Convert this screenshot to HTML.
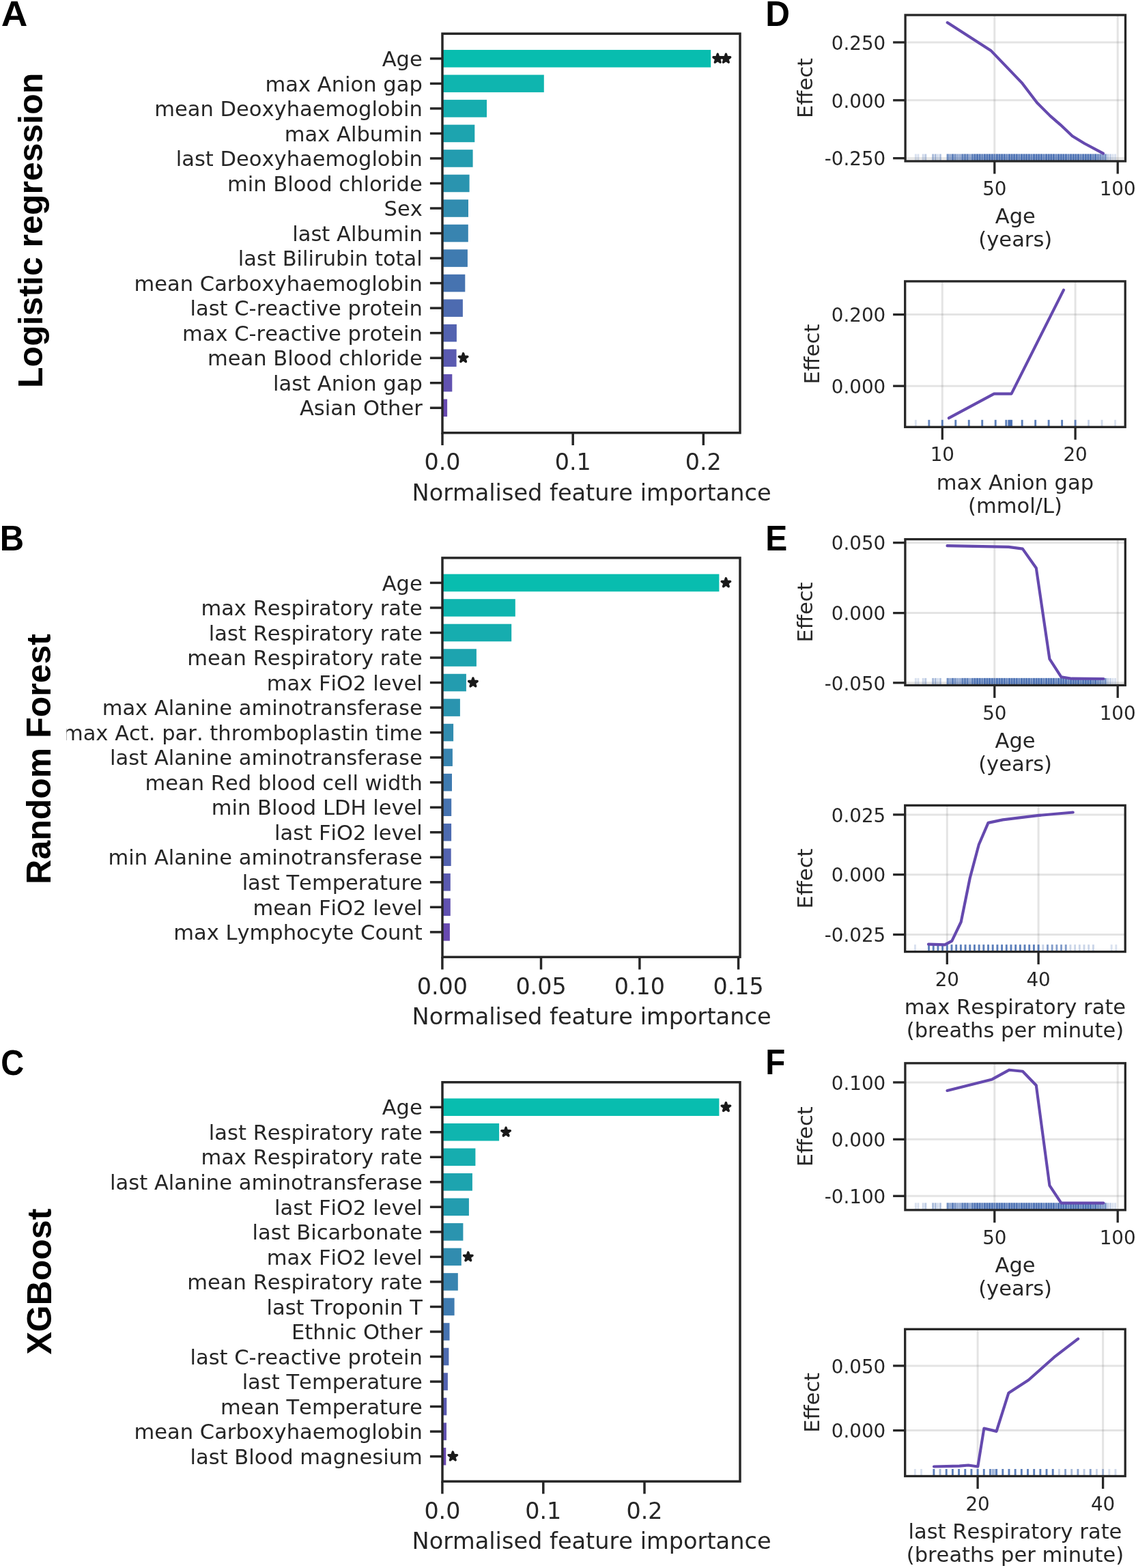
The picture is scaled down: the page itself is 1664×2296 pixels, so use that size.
<!DOCTYPE html>
<html><head><meta charset="utf-8"><title>Feature importance</title>
<style>html,body{margin:0;padding:0;background:#fff;}svg{display:block;} text{font-kerning:none;}</style></head>
<body>
<svg width="1664" height="2296" viewBox="0 0 1664 2296" font-family="'DejaVu Sans', sans-serif">
<rect width="100%" height="100%" fill="#ffffff"/>
<defs><clipPath id="clipB"><rect x="97.4" y="0" width="1600" height="2296"/></clipPath></defs>
<rect x="648.00" y="73.04" width="393.20" height="25.57" fill="#08bdaf"/>
<polygon points="1051.20,79.23 1052.68,83.79 1057.48,83.79 1053.60,86.61 1055.08,91.17 1051.20,88.35 1047.32,91.17 1048.80,86.61 1044.92,83.79 1049.72,83.79" fill="#1a1a1a" stroke="#1a1a1a" stroke-width="3.4" stroke-linejoin="round"/>
<polygon points="1063.40,79.23 1064.88,83.79 1069.68,83.79 1065.80,86.61 1067.28,91.17 1063.40,88.35 1059.52,91.17 1061.00,86.61 1057.12,83.79 1061.92,83.79" fill="#1a1a1a" stroke="#1a1a1a" stroke-width="3.4" stroke-linejoin="round"/>
<rect x="648.00" y="109.57" width="148.80" height="25.57" fill="#0fb5af"/>
<rect x="648.00" y="146.10" width="65.00" height="25.57" fill="#16adaf"/>
<rect x="648.00" y="182.63" width="47.30" height="25.57" fill="#1da4af"/>
<rect x="648.00" y="219.16" width="44.60" height="25.57" fill="#239caf"/>
<rect x="648.00" y="255.69" width="39.60" height="25.57" fill="#2a94af"/>
<rect x="648.00" y="292.22" width="38.00" height="25.57" fill="#318caf"/>
<rect x="648.00" y="328.75" width="37.80" height="25.57" fill="#3884b0"/>
<rect x="648.00" y="365.28" width="36.90" height="25.57" fill="#3f7bb0"/>
<rect x="648.00" y="401.81" width="33.30" height="25.57" fill="#4673b0"/>
<rect x="648.00" y="438.34" width="29.90" height="25.57" fill="#4d6bb0"/>
<rect x="648.00" y="474.87" width="20.90" height="25.57" fill="#5363b0"/>
<rect x="648.00" y="511.40" width="20.60" height="25.57" fill="#5a5ab0"/>
<polygon points="678.60,517.59 680.08,522.15 684.88,522.15 681.00,524.97 682.48,529.53 678.60,526.71 674.72,529.53 676.20,524.97 672.32,522.15 677.12,522.15" fill="#1a1a1a" stroke="#1a1a1a" stroke-width="3.4" stroke-linejoin="round"/>
<rect x="648.00" y="547.93" width="14.30" height="25.57" fill="#6152b0"/>
<rect x="648.00" y="584.46" width="7.10" height="25.57" fill="#684ab0"/>
<rect x="648.00" y="49.30" width="436.00" height="584.48" fill="none" stroke="#262626" stroke-width="3.47"/>
<line x1="629.90" y1="85.83" x2="648.00" y2="85.83" stroke="#262626" stroke-width="3.47" stroke-linecap="butt"/>
<text x="618.80" y="97.03" font-size="30.56" text-anchor="end" fill="#262626">Age</text>
<line x1="629.90" y1="122.36" x2="648.00" y2="122.36" stroke="#262626" stroke-width="3.47" stroke-linecap="butt"/>
<text x="618.80" y="133.56" font-size="30.56" text-anchor="end" fill="#262626">max Anion gap</text>
<line x1="629.90" y1="158.89" x2="648.00" y2="158.89" stroke="#262626" stroke-width="3.47" stroke-linecap="butt"/>
<text x="618.80" y="170.09" font-size="30.56" text-anchor="end" fill="#262626">mean Deoxyhaemoglobin</text>
<line x1="629.90" y1="195.42" x2="648.00" y2="195.42" stroke="#262626" stroke-width="3.47" stroke-linecap="butt"/>
<text x="618.80" y="206.62" font-size="30.56" text-anchor="end" fill="#262626">max Albumin</text>
<line x1="629.90" y1="231.95" x2="648.00" y2="231.95" stroke="#262626" stroke-width="3.47" stroke-linecap="butt"/>
<text x="618.80" y="243.15" font-size="30.56" text-anchor="end" fill="#262626">last Deoxyhaemoglobin</text>
<line x1="629.90" y1="268.48" x2="648.00" y2="268.48" stroke="#262626" stroke-width="3.47" stroke-linecap="butt"/>
<text x="618.80" y="279.68" font-size="30.56" text-anchor="end" fill="#262626">min Blood chloride</text>
<line x1="629.90" y1="305.01" x2="648.00" y2="305.01" stroke="#262626" stroke-width="3.47" stroke-linecap="butt"/>
<text x="618.80" y="316.21" font-size="30.56" text-anchor="end" fill="#262626">Sex</text>
<line x1="629.90" y1="341.54" x2="648.00" y2="341.54" stroke="#262626" stroke-width="3.47" stroke-linecap="butt"/>
<text x="618.80" y="352.74" font-size="30.56" text-anchor="end" fill="#262626">last Albumin</text>
<line x1="629.90" y1="378.07" x2="648.00" y2="378.07" stroke="#262626" stroke-width="3.47" stroke-linecap="butt"/>
<text x="618.80" y="389.27" font-size="30.56" text-anchor="end" fill="#262626">last Bilirubin total</text>
<line x1="629.90" y1="414.60" x2="648.00" y2="414.60" stroke="#262626" stroke-width="3.47" stroke-linecap="butt"/>
<text x="618.80" y="425.80" font-size="30.56" text-anchor="end" fill="#262626">mean Carboxyhaemoglobin</text>
<line x1="629.90" y1="451.13" x2="648.00" y2="451.13" stroke="#262626" stroke-width="3.47" stroke-linecap="butt"/>
<text x="618.80" y="462.33" font-size="30.56" text-anchor="end" fill="#262626">last C-reactive protein</text>
<line x1="629.90" y1="487.66" x2="648.00" y2="487.66" stroke="#262626" stroke-width="3.47" stroke-linecap="butt"/>
<text x="618.80" y="498.86" font-size="30.56" text-anchor="end" fill="#262626">max C-reactive protein</text>
<line x1="629.90" y1="524.19" x2="648.00" y2="524.19" stroke="#262626" stroke-width="3.47" stroke-linecap="butt"/>
<text x="618.80" y="535.39" font-size="30.56" text-anchor="end" fill="#262626">mean Blood chloride</text>
<line x1="629.90" y1="560.72" x2="648.00" y2="560.72" stroke="#262626" stroke-width="3.47" stroke-linecap="butt"/>
<text x="618.80" y="571.92" font-size="30.56" text-anchor="end" fill="#262626">last Anion gap</text>
<line x1="629.90" y1="597.25" x2="648.00" y2="597.25" stroke="#262626" stroke-width="3.47" stroke-linecap="butt"/>
<text x="618.80" y="608.45" font-size="30.56" text-anchor="end" fill="#262626">Asian Other</text>
<line x1="648.00" y1="633.78" x2="648.00" y2="651.98" stroke="#262626" stroke-width="3.47" stroke-linecap="butt"/>
<text x="648.00" y="688.38" font-size="33.33" text-anchor="middle" fill="#262626">0.0</text>
<line x1="839.20" y1="633.78" x2="839.20" y2="651.98" stroke="#262626" stroke-width="3.47" stroke-linecap="butt"/>
<text x="839.20" y="688.38" font-size="33.33" text-anchor="middle" fill="#262626">0.1</text>
<line x1="1030.30" y1="633.78" x2="1030.30" y2="651.98" stroke="#262626" stroke-width="3.47" stroke-linecap="butt"/>
<text x="1030.30" y="688.38" font-size="33.33" text-anchor="middle" fill="#262626">0.2</text>
<text x="866.55" y="732.88" font-size="33.6" text-anchor="middle" fill="#262626">Normalised feature importance</text>
<rect x="648.00" y="840.64" width="405.40" height="25.57" fill="#08bdaf"/>
<polygon points="1063.40,846.83 1064.88,851.39 1069.68,851.39 1065.80,854.21 1067.28,858.77 1063.40,855.95 1059.52,858.77 1061.00,854.21 1057.12,851.39 1061.92,851.39" fill="#1a1a1a" stroke="#1a1a1a" stroke-width="3.4" stroke-linejoin="round"/>
<rect x="648.00" y="877.17" width="106.80" height="25.57" fill="#0fb5af"/>
<rect x="648.00" y="913.70" width="101.20" height="25.57" fill="#16adaf"/>
<rect x="648.00" y="950.23" width="49.90" height="25.57" fill="#1da4af"/>
<rect x="648.00" y="986.76" width="34.90" height="25.57" fill="#239caf"/>
<polygon points="692.90,992.95 694.38,997.51 699.18,997.51 695.30,1000.33 696.78,1004.89 692.90,1002.07 689.02,1004.89 690.50,1000.33 686.62,997.51 691.42,997.51" fill="#1a1a1a" stroke="#1a1a1a" stroke-width="3.4" stroke-linejoin="round"/>
<rect x="648.00" y="1023.29" width="25.90" height="25.57" fill="#2a94af"/>
<rect x="648.00" y="1059.82" width="16.10" height="25.57" fill="#318caf"/>
<rect x="648.00" y="1096.35" width="14.90" height="25.57" fill="#3884b0"/>
<rect x="648.00" y="1132.88" width="14.00" height="25.57" fill="#3f7bb0"/>
<rect x="648.00" y="1169.41" width="13.20" height="25.57" fill="#4673b0"/>
<rect x="648.00" y="1205.94" width="13.10" height="25.57" fill="#4d6bb0"/>
<rect x="648.00" y="1242.47" width="12.70" height="25.57" fill="#5363b0"/>
<rect x="648.00" y="1279.00" width="11.80" height="25.57" fill="#5a5ab0"/>
<rect x="648.00" y="1315.53" width="11.80" height="25.57" fill="#6152b0"/>
<rect x="648.00" y="1352.06" width="10.90" height="25.57" fill="#684ab0"/>
<rect x="648.00" y="816.90" width="436.00" height="584.48" fill="none" stroke="#262626" stroke-width="3.47"/>
<line x1="629.90" y1="853.43" x2="648.00" y2="853.43" stroke="#262626" stroke-width="3.47" stroke-linecap="butt"/>
<text x="618.80" y="864.63" font-size="30.56" text-anchor="end" fill="#262626">Age</text>
<line x1="629.90" y1="889.96" x2="648.00" y2="889.96" stroke="#262626" stroke-width="3.47" stroke-linecap="butt"/>
<text x="618.80" y="901.16" font-size="30.56" text-anchor="end" fill="#262626">max Respiratory rate</text>
<line x1="629.90" y1="926.49" x2="648.00" y2="926.49" stroke="#262626" stroke-width="3.47" stroke-linecap="butt"/>
<text x="618.80" y="937.69" font-size="30.56" text-anchor="end" fill="#262626">last Respiratory rate</text>
<line x1="629.90" y1="963.02" x2="648.00" y2="963.02" stroke="#262626" stroke-width="3.47" stroke-linecap="butt"/>
<text x="618.80" y="974.22" font-size="30.56" text-anchor="end" fill="#262626">mean Respiratory rate</text>
<line x1="629.90" y1="999.55" x2="648.00" y2="999.55" stroke="#262626" stroke-width="3.47" stroke-linecap="butt"/>
<text x="618.80" y="1010.75" font-size="30.56" text-anchor="end" fill="#262626">max FiO2 level</text>
<line x1="629.90" y1="1036.08" x2="648.00" y2="1036.08" stroke="#262626" stroke-width="3.47" stroke-linecap="butt"/>
<text x="618.80" y="1047.28" font-size="30.56" text-anchor="end" fill="#262626">max Alanine aminotransferase</text>
<line x1="629.90" y1="1072.61" x2="648.00" y2="1072.61" stroke="#262626" stroke-width="3.47" stroke-linecap="butt"/>
<text x="618.80" y="1083.81" font-size="30.56" text-anchor="end" fill="#262626" clip-path="url(#clipB)">max Act. par. thromboplastin time</text>
<line x1="629.90" y1="1109.14" x2="648.00" y2="1109.14" stroke="#262626" stroke-width="3.47" stroke-linecap="butt"/>
<text x="618.80" y="1120.34" font-size="30.56" text-anchor="end" fill="#262626">last Alanine aminotransferase</text>
<line x1="629.90" y1="1145.67" x2="648.00" y2="1145.67" stroke="#262626" stroke-width="3.47" stroke-linecap="butt"/>
<text x="618.80" y="1156.87" font-size="30.56" text-anchor="end" fill="#262626">mean Red blood cell width</text>
<line x1="629.90" y1="1182.20" x2="648.00" y2="1182.20" stroke="#262626" stroke-width="3.47" stroke-linecap="butt"/>
<text x="618.80" y="1193.40" font-size="30.56" text-anchor="end" fill="#262626">min Blood LDH level</text>
<line x1="629.90" y1="1218.73" x2="648.00" y2="1218.73" stroke="#262626" stroke-width="3.47" stroke-linecap="butt"/>
<text x="618.80" y="1229.93" font-size="30.56" text-anchor="end" fill="#262626">last FiO2 level</text>
<line x1="629.90" y1="1255.26" x2="648.00" y2="1255.26" stroke="#262626" stroke-width="3.47" stroke-linecap="butt"/>
<text x="618.80" y="1266.46" font-size="30.56" text-anchor="end" fill="#262626">min Alanine aminotransferase</text>
<line x1="629.90" y1="1291.79" x2="648.00" y2="1291.79" stroke="#262626" stroke-width="3.47" stroke-linecap="butt"/>
<text x="618.80" y="1302.99" font-size="30.56" text-anchor="end" fill="#262626">last Temperature</text>
<line x1="629.90" y1="1328.32" x2="648.00" y2="1328.32" stroke="#262626" stroke-width="3.47" stroke-linecap="butt"/>
<text x="618.80" y="1339.52" font-size="30.56" text-anchor="end" fill="#262626">mean FiO2 level</text>
<line x1="629.90" y1="1364.85" x2="648.00" y2="1364.85" stroke="#262626" stroke-width="3.47" stroke-linecap="butt"/>
<text x="618.80" y="1376.05" font-size="30.56" text-anchor="end" fill="#262626">max Lymphocyte Count</text>
<line x1="647.90" y1="1401.38" x2="647.90" y2="1419.58" stroke="#262626" stroke-width="3.47" stroke-linecap="butt"/>
<text x="647.90" y="1455.98" font-size="33.33" text-anchor="middle" fill="#262626">0.00</text>
<line x1="792.50" y1="1401.38" x2="792.50" y2="1419.58" stroke="#262626" stroke-width="3.47" stroke-linecap="butt"/>
<text x="792.50" y="1455.98" font-size="33.33" text-anchor="middle" fill="#262626">0.05</text>
<line x1="936.90" y1="1401.38" x2="936.90" y2="1419.58" stroke="#262626" stroke-width="3.47" stroke-linecap="butt"/>
<text x="936.90" y="1455.98" font-size="33.33" text-anchor="middle" fill="#262626">0.10</text>
<line x1="1081.60" y1="1401.38" x2="1081.60" y2="1419.58" stroke="#262626" stroke-width="3.47" stroke-linecap="butt"/>
<text x="1081.60" y="1455.98" font-size="33.33" text-anchor="middle" fill="#262626">0.15</text>
<text x="866.55" y="1500.48" font-size="33.6" text-anchor="middle" fill="#262626">Normalised feature importance</text>
<rect x="648.00" y="1608.44" width="405.40" height="25.57" fill="#08bdaf"/>
<polygon points="1063.40,1614.63 1064.88,1619.19 1069.68,1619.19 1065.80,1622.01 1067.28,1626.57 1063.40,1623.75 1059.52,1626.57 1061.00,1622.01 1057.12,1619.19 1061.92,1619.19" fill="#1a1a1a" stroke="#1a1a1a" stroke-width="3.4" stroke-linejoin="round"/>
<rect x="648.00" y="1644.97" width="83.10" height="25.57" fill="#0fb5af"/>
<polygon points="741.10,1651.16 742.58,1655.72 747.38,1655.72 743.50,1658.54 744.98,1663.10 741.10,1660.28 737.22,1663.10 738.70,1658.54 734.82,1655.72 739.62,1655.72" fill="#1a1a1a" stroke="#1a1a1a" stroke-width="3.4" stroke-linejoin="round"/>
<rect x="648.00" y="1681.50" width="48.40" height="25.57" fill="#16adaf"/>
<rect x="648.00" y="1718.03" width="43.90" height="25.57" fill="#1da4af"/>
<rect x="648.00" y="1754.56" width="38.90" height="25.57" fill="#239caf"/>
<rect x="648.00" y="1791.09" width="30.40" height="25.57" fill="#2a94af"/>
<rect x="648.00" y="1827.62" width="27.80" height="25.57" fill="#318caf"/>
<polygon points="685.80,1833.81 687.28,1838.37 692.08,1838.37 688.20,1841.19 689.68,1845.75 685.80,1842.93 681.92,1845.75 683.40,1841.19 679.52,1838.37 684.32,1838.37" fill="#1a1a1a" stroke="#1a1a1a" stroke-width="3.4" stroke-linejoin="round"/>
<rect x="648.00" y="1864.15" width="22.80" height="25.57" fill="#3884b0"/>
<rect x="648.00" y="1900.68" width="17.60" height="25.57" fill="#3f7bb0"/>
<rect x="648.00" y="1937.21" width="10.50" height="25.57" fill="#4673b0"/>
<rect x="648.00" y="1973.74" width="9.40" height="25.57" fill="#4d6bb0"/>
<rect x="648.00" y="2010.27" width="7.90" height="25.57" fill="#5363b0"/>
<rect x="648.00" y="2046.80" width="6.30" height="25.57" fill="#5a5ab0"/>
<rect x="648.00" y="2083.33" width="6.00" height="25.57" fill="#6152b0"/>
<rect x="648.00" y="2119.86" width="5.30" height="25.57" fill="#684ab0"/>
<polygon points="663.30,2126.05 664.78,2130.61 669.58,2130.61 665.70,2133.43 667.18,2137.99 663.30,2135.17 659.42,2137.99 660.90,2133.43 657.02,2130.61 661.82,2130.61" fill="#1a1a1a" stroke="#1a1a1a" stroke-width="3.4" stroke-linejoin="round"/>
<rect x="648.00" y="1584.70" width="436.00" height="584.48" fill="none" stroke="#262626" stroke-width="3.47"/>
<line x1="629.90" y1="1621.23" x2="648.00" y2="1621.23" stroke="#262626" stroke-width="3.47" stroke-linecap="butt"/>
<text x="618.80" y="1632.43" font-size="30.56" text-anchor="end" fill="#262626">Age</text>
<line x1="629.90" y1="1657.76" x2="648.00" y2="1657.76" stroke="#262626" stroke-width="3.47" stroke-linecap="butt"/>
<text x="618.80" y="1668.96" font-size="30.56" text-anchor="end" fill="#262626">last Respiratory rate</text>
<line x1="629.90" y1="1694.29" x2="648.00" y2="1694.29" stroke="#262626" stroke-width="3.47" stroke-linecap="butt"/>
<text x="618.80" y="1705.49" font-size="30.56" text-anchor="end" fill="#262626">max Respiratory rate</text>
<line x1="629.90" y1="1730.82" x2="648.00" y2="1730.82" stroke="#262626" stroke-width="3.47" stroke-linecap="butt"/>
<text x="618.80" y="1742.02" font-size="30.56" text-anchor="end" fill="#262626">last Alanine aminotransferase</text>
<line x1="629.90" y1="1767.35" x2="648.00" y2="1767.35" stroke="#262626" stroke-width="3.47" stroke-linecap="butt"/>
<text x="618.80" y="1778.55" font-size="30.56" text-anchor="end" fill="#262626">last FiO2 level</text>
<line x1="629.90" y1="1803.88" x2="648.00" y2="1803.88" stroke="#262626" stroke-width="3.47" stroke-linecap="butt"/>
<text x="618.80" y="1815.08" font-size="30.56" text-anchor="end" fill="#262626">last Bicarbonate</text>
<line x1="629.90" y1="1840.41" x2="648.00" y2="1840.41" stroke="#262626" stroke-width="3.47" stroke-linecap="butt"/>
<text x="618.80" y="1851.61" font-size="30.56" text-anchor="end" fill="#262626">max FiO2 level</text>
<line x1="629.90" y1="1876.94" x2="648.00" y2="1876.94" stroke="#262626" stroke-width="3.47" stroke-linecap="butt"/>
<text x="618.80" y="1888.14" font-size="30.56" text-anchor="end" fill="#262626">mean Respiratory rate</text>
<line x1="629.90" y1="1913.47" x2="648.00" y2="1913.47" stroke="#262626" stroke-width="3.47" stroke-linecap="butt"/>
<text x="618.80" y="1924.67" font-size="30.56" text-anchor="end" fill="#262626">last Troponin T</text>
<line x1="629.90" y1="1950.00" x2="648.00" y2="1950.00" stroke="#262626" stroke-width="3.47" stroke-linecap="butt"/>
<text x="618.80" y="1961.20" font-size="30.56" text-anchor="end" fill="#262626">Ethnic Other</text>
<line x1="629.90" y1="1986.53" x2="648.00" y2="1986.53" stroke="#262626" stroke-width="3.47" stroke-linecap="butt"/>
<text x="618.80" y="1997.73" font-size="30.56" text-anchor="end" fill="#262626">last C-reactive protein</text>
<line x1="629.90" y1="2023.06" x2="648.00" y2="2023.06" stroke="#262626" stroke-width="3.47" stroke-linecap="butt"/>
<text x="618.80" y="2034.26" font-size="30.56" text-anchor="end" fill="#262626">last Temperature</text>
<line x1="629.90" y1="2059.59" x2="648.00" y2="2059.59" stroke="#262626" stroke-width="3.47" stroke-linecap="butt"/>
<text x="618.80" y="2070.79" font-size="30.56" text-anchor="end" fill="#262626">mean Temperature</text>
<line x1="629.90" y1="2096.12" x2="648.00" y2="2096.12" stroke="#262626" stroke-width="3.47" stroke-linecap="butt"/>
<text x="618.80" y="2107.32" font-size="30.56" text-anchor="end" fill="#262626">mean Carboxyhaemoglobin</text>
<line x1="629.90" y1="2132.65" x2="648.00" y2="2132.65" stroke="#262626" stroke-width="3.47" stroke-linecap="butt"/>
<text x="618.80" y="2143.85" font-size="30.56" text-anchor="end" fill="#262626">last Blood magnesium</text>
<line x1="647.90" y1="2169.18" x2="647.90" y2="2187.38" stroke="#262626" stroke-width="3.47" stroke-linecap="butt"/>
<text x="647.90" y="2223.78" font-size="33.33" text-anchor="middle" fill="#262626">0.0</text>
<line x1="795.80" y1="2169.18" x2="795.80" y2="2187.38" stroke="#262626" stroke-width="3.47" stroke-linecap="butt"/>
<text x="795.80" y="2223.78" font-size="33.33" text-anchor="middle" fill="#262626">0.1</text>
<line x1="944.00" y1="2169.18" x2="944.00" y2="2187.38" stroke="#262626" stroke-width="3.47" stroke-linecap="butt"/>
<text x="944.00" y="2223.78" font-size="33.33" text-anchor="middle" fill="#262626">0.2</text>
<text x="866.55" y="2268.28" font-size="33.6" text-anchor="middle" fill="#262626">Normalised feature importance</text>
<line x1="1326.10" y1="62.00" x2="1648.50" y2="62.00" stroke="#7a7a7a" stroke-opacity="0.2" stroke-width="3"/>
<line x1="1326.10" y1="146.80" x2="1648.50" y2="146.80" stroke="#7a7a7a" stroke-opacity="0.2" stroke-width="3"/>
<line x1="1326.10" y1="231.70" x2="1648.50" y2="231.70" stroke="#7a7a7a" stroke-opacity="0.2" stroke-width="3"/>
<line x1="1456.80" y1="22.00" x2="1456.80" y2="236.00" stroke="#7a7a7a" stroke-opacity="0.2" stroke-width="3"/>
<line x1="1637.20" y1="22.00" x2="1637.20" y2="236.00" stroke="#7a7a7a" stroke-opacity="0.2" stroke-width="3"/>
<rect x="1386.44" y="225.50" width="234.52" height="10.5" fill="#4068ae" fill-opacity="0.35"/>
<line x1="1341.34" y1="225.50" x2="1341.34" y2="236.00" stroke="#4068ae" stroke-opacity="0.20" stroke-width="2.9"/>
<line x1="1344.95" y1="225.50" x2="1344.95" y2="236.00" stroke="#4068ae" stroke-opacity="0.20" stroke-width="2.9"/>
<line x1="1352.17" y1="225.50" x2="1352.17" y2="236.00" stroke="#4068ae" stroke-opacity="0.25" stroke-width="2.9"/>
<line x1="1355.78" y1="225.50" x2="1355.78" y2="236.00" stroke="#4068ae" stroke-opacity="0.35" stroke-width="2.9"/>
<line x1="1366.60" y1="225.50" x2="1366.60" y2="236.00" stroke="#4068ae" stroke-opacity="0.45" stroke-width="2.9"/>
<line x1="1370.21" y1="225.50" x2="1370.21" y2="236.00" stroke="#4068ae" stroke-opacity="0.45" stroke-width="2.9"/>
<line x1="1373.82" y1="225.50" x2="1373.82" y2="236.00" stroke="#4068ae" stroke-opacity="0.25" stroke-width="2.9"/>
<line x1="1377.42" y1="225.50" x2="1377.42" y2="236.00" stroke="#4068ae" stroke-opacity="0.40" stroke-width="2.9"/>
<line x1="1388.25" y1="225.50" x2="1388.25" y2="236.00" stroke="#4068ae" stroke-opacity="0.60" stroke-width="2.9"/>
<line x1="1391.86" y1="225.50" x2="1391.86" y2="236.00" stroke="#4068ae" stroke-opacity="0.35" stroke-width="2.9"/>
<line x1="1395.46" y1="225.50" x2="1395.46" y2="236.00" stroke="#4068ae" stroke-opacity="0.75" stroke-width="2.9"/>
<line x1="1399.07" y1="225.50" x2="1399.07" y2="236.00" stroke="#4068ae" stroke-opacity="0.55" stroke-width="2.9"/>
<line x1="1402.68" y1="225.50" x2="1402.68" y2="236.00" stroke="#4068ae" stroke-opacity="0.30" stroke-width="2.9"/>
<line x1="1406.29" y1="225.50" x2="1406.29" y2="236.00" stroke="#4068ae" stroke-opacity="0.30" stroke-width="2.9"/>
<line x1="1409.90" y1="225.50" x2="1409.90" y2="236.00" stroke="#4068ae" stroke-opacity="0.75" stroke-width="2.9"/>
<line x1="1413.50" y1="225.50" x2="1413.50" y2="236.00" stroke="#4068ae" stroke-opacity="0.75" stroke-width="2.9"/>
<line x1="1417.11" y1="225.50" x2="1417.11" y2="236.00" stroke="#4068ae" stroke-opacity="0.75" stroke-width="2.9"/>
<line x1="1420.72" y1="225.50" x2="1420.72" y2="236.00" stroke="#4068ae" stroke-opacity="0.35" stroke-width="2.9"/>
<line x1="1424.33" y1="225.50" x2="1424.33" y2="236.00" stroke="#4068ae" stroke-opacity="0.75" stroke-width="2.9"/>
<line x1="1427.94" y1="225.50" x2="1427.94" y2="236.00" stroke="#4068ae" stroke-opacity="0.88" stroke-width="2.9"/>
<line x1="1431.54" y1="225.50" x2="1431.54" y2="236.00" stroke="#4068ae" stroke-opacity="0.88" stroke-width="2.9"/>
<line x1="1435.15" y1="225.50" x2="1435.15" y2="236.00" stroke="#4068ae" stroke-opacity="0.88" stroke-width="2.9"/>
<line x1="1438.76" y1="225.50" x2="1438.76" y2="236.00" stroke="#4068ae" stroke-opacity="0.70" stroke-width="2.9"/>
<line x1="1442.37" y1="225.50" x2="1442.37" y2="236.00" stroke="#4068ae" stroke-opacity="0.88" stroke-width="2.9"/>
<line x1="1445.98" y1="225.50" x2="1445.98" y2="236.00" stroke="#4068ae" stroke-opacity="0.88" stroke-width="2.9"/>
<line x1="1449.58" y1="225.50" x2="1449.58" y2="236.00" stroke="#4068ae" stroke-opacity="0.88" stroke-width="2.9"/>
<line x1="1453.19" y1="225.50" x2="1453.19" y2="236.00" stroke="#4068ae" stroke-opacity="0.88" stroke-width="2.9"/>
<line x1="1456.80" y1="225.50" x2="1456.80" y2="236.00" stroke="#4068ae" stroke-opacity="0.70" stroke-width="2.9"/>
<line x1="1460.41" y1="225.50" x2="1460.41" y2="236.00" stroke="#4068ae" stroke-opacity="0.88" stroke-width="2.9"/>
<line x1="1464.02" y1="225.50" x2="1464.02" y2="236.00" stroke="#4068ae" stroke-opacity="0.88" stroke-width="2.9"/>
<line x1="1467.62" y1="225.50" x2="1467.62" y2="236.00" stroke="#4068ae" stroke-opacity="0.88" stroke-width="2.9"/>
<line x1="1471.23" y1="225.50" x2="1471.23" y2="236.00" stroke="#4068ae" stroke-opacity="0.88" stroke-width="2.9"/>
<line x1="1474.84" y1="225.50" x2="1474.84" y2="236.00" stroke="#4068ae" stroke-opacity="0.70" stroke-width="2.9"/>
<line x1="1478.45" y1="225.50" x2="1478.45" y2="236.00" stroke="#4068ae" stroke-opacity="0.88" stroke-width="2.9"/>
<line x1="1482.06" y1="225.50" x2="1482.06" y2="236.00" stroke="#4068ae" stroke-opacity="0.88" stroke-width="2.9"/>
<line x1="1485.66" y1="225.50" x2="1485.66" y2="236.00" stroke="#4068ae" stroke-opacity="0.88" stroke-width="2.9"/>
<line x1="1489.27" y1="225.50" x2="1489.27" y2="236.00" stroke="#4068ae" stroke-opacity="0.88" stroke-width="2.9"/>
<line x1="1492.88" y1="225.50" x2="1492.88" y2="236.00" stroke="#4068ae" stroke-opacity="0.70" stroke-width="2.9"/>
<line x1="1496.49" y1="225.50" x2="1496.49" y2="236.00" stroke="#4068ae" stroke-opacity="0.88" stroke-width="2.9"/>
<line x1="1500.10" y1="225.50" x2="1500.10" y2="236.00" stroke="#4068ae" stroke-opacity="0.88" stroke-width="2.9"/>
<line x1="1503.70" y1="225.50" x2="1503.70" y2="236.00" stroke="#4068ae" stroke-opacity="0.88" stroke-width="2.9"/>
<line x1="1507.31" y1="225.50" x2="1507.31" y2="236.00" stroke="#4068ae" stroke-opacity="0.88" stroke-width="2.9"/>
<line x1="1510.92" y1="225.50" x2="1510.92" y2="236.00" stroke="#4068ae" stroke-opacity="0.70" stroke-width="2.9"/>
<line x1="1514.53" y1="225.50" x2="1514.53" y2="236.00" stroke="#4068ae" stroke-opacity="0.88" stroke-width="2.9"/>
<line x1="1518.14" y1="225.50" x2="1518.14" y2="236.00" stroke="#4068ae" stroke-opacity="0.88" stroke-width="2.9"/>
<line x1="1521.74" y1="225.50" x2="1521.74" y2="236.00" stroke="#4068ae" stroke-opacity="0.88" stroke-width="2.9"/>
<line x1="1525.35" y1="225.50" x2="1525.35" y2="236.00" stroke="#4068ae" stroke-opacity="0.88" stroke-width="2.9"/>
<line x1="1528.96" y1="225.50" x2="1528.96" y2="236.00" stroke="#4068ae" stroke-opacity="0.70" stroke-width="2.9"/>
<line x1="1532.57" y1="225.50" x2="1532.57" y2="236.00" stroke="#4068ae" stroke-opacity="0.88" stroke-width="2.9"/>
<line x1="1536.18" y1="225.50" x2="1536.18" y2="236.00" stroke="#4068ae" stroke-opacity="0.88" stroke-width="2.9"/>
<line x1="1539.78" y1="225.50" x2="1539.78" y2="236.00" stroke="#4068ae" stroke-opacity="0.88" stroke-width="2.9"/>
<line x1="1543.39" y1="225.50" x2="1543.39" y2="236.00" stroke="#4068ae" stroke-opacity="0.88" stroke-width="2.9"/>
<line x1="1547.00" y1="225.50" x2="1547.00" y2="236.00" stroke="#4068ae" stroke-opacity="0.70" stroke-width="2.9"/>
<line x1="1550.61" y1="225.50" x2="1550.61" y2="236.00" stroke="#4068ae" stroke-opacity="0.88" stroke-width="2.9"/>
<line x1="1554.22" y1="225.50" x2="1554.22" y2="236.00" stroke="#4068ae" stroke-opacity="0.88" stroke-width="2.9"/>
<line x1="1557.82" y1="225.50" x2="1557.82" y2="236.00" stroke="#4068ae" stroke-opacity="0.88" stroke-width="2.9"/>
<line x1="1561.43" y1="225.50" x2="1561.43" y2="236.00" stroke="#4068ae" stroke-opacity="0.88" stroke-width="2.9"/>
<line x1="1565.04" y1="225.50" x2="1565.04" y2="236.00" stroke="#4068ae" stroke-opacity="0.70" stroke-width="2.9"/>
<line x1="1568.65" y1="225.50" x2="1568.65" y2="236.00" stroke="#4068ae" stroke-opacity="0.88" stroke-width="2.9"/>
<line x1="1572.26" y1="225.50" x2="1572.26" y2="236.00" stroke="#4068ae" stroke-opacity="0.88" stroke-width="2.9"/>
<line x1="1575.86" y1="225.50" x2="1575.86" y2="236.00" stroke="#4068ae" stroke-opacity="0.88" stroke-width="2.9"/>
<line x1="1579.47" y1="225.50" x2="1579.47" y2="236.00" stroke="#4068ae" stroke-opacity="0.88" stroke-width="2.9"/>
<line x1="1583.08" y1="225.50" x2="1583.08" y2="236.00" stroke="#4068ae" stroke-opacity="0.70" stroke-width="2.9"/>
<line x1="1586.69" y1="225.50" x2="1586.69" y2="236.00" stroke="#4068ae" stroke-opacity="0.88" stroke-width="2.9"/>
<line x1="1590.30" y1="225.50" x2="1590.30" y2="236.00" stroke="#4068ae" stroke-opacity="0.88" stroke-width="2.9"/>
<line x1="1593.90" y1="225.50" x2="1593.90" y2="236.00" stroke="#4068ae" stroke-opacity="0.88" stroke-width="2.9"/>
<line x1="1597.51" y1="225.50" x2="1597.51" y2="236.00" stroke="#4068ae" stroke-opacity="0.88" stroke-width="2.9"/>
<line x1="1601.12" y1="225.50" x2="1601.12" y2="236.00" stroke="#4068ae" stroke-opacity="0.70" stroke-width="2.9"/>
<line x1="1604.73" y1="225.50" x2="1604.73" y2="236.00" stroke="#4068ae" stroke-opacity="0.88" stroke-width="2.9"/>
<line x1="1608.34" y1="225.50" x2="1608.34" y2="236.00" stroke="#4068ae" stroke-opacity="0.60" stroke-width="2.9"/>
<line x1="1611.94" y1="225.50" x2="1611.94" y2="236.00" stroke="#4068ae" stroke-opacity="0.60" stroke-width="2.9"/>
<line x1="1615.55" y1="225.50" x2="1615.55" y2="236.00" stroke="#4068ae" stroke-opacity="0.45" stroke-width="2.9"/>
<line x1="1619.16" y1="225.50" x2="1619.16" y2="236.00" stroke="#4068ae" stroke-opacity="0.55" stroke-width="2.9"/>
<line x1="1622.77" y1="225.50" x2="1622.77" y2="236.00" stroke="#4068ae" stroke-opacity="0.35" stroke-width="2.9"/>
<line x1="1626.38" y1="225.50" x2="1626.38" y2="236.00" stroke="#4068ae" stroke-opacity="0.30" stroke-width="2.9"/>
<line x1="1629.98" y1="225.50" x2="1629.98" y2="236.00" stroke="#4068ae" stroke-opacity="0.20" stroke-width="2.9"/>
<line x1="1633.59" y1="225.50" x2="1633.59" y2="236.00" stroke="#4068ae" stroke-opacity="0.20" stroke-width="2.9"/>
<polyline points="1387.7,33.1 1451.3,73.9 1497.4,121.9 1518.9,150.3 1538.5,169.9 1553.2,182.6 1570.8,199.2 1588.4,210.0 1615.9,224.7" fill="none" stroke="#6549ae" stroke-width="4.17" stroke-linejoin="round" stroke-linecap="round"/>
<rect x="1326.10" y="22.00" width="322.40" height="214.00" fill="none" stroke="#262626" stroke-width="3.3"/>
<line x1="1308.10" y1="62.00" x2="1326.10" y2="62.00" stroke="#262626" stroke-width="3.3" stroke-linecap="butt"/>
<text x="1297.30" y="72.70" font-size="27.78" text-anchor="end" fill="#262626">0.250</text>
<line x1="1308.10" y1="146.80" x2="1326.10" y2="146.80" stroke="#262626" stroke-width="3.3" stroke-linecap="butt"/>
<text x="1297.30" y="157.50" font-size="27.78" text-anchor="end" fill="#262626">0.000</text>
<line x1="1308.10" y1="231.70" x2="1326.10" y2="231.70" stroke="#262626" stroke-width="3.3" stroke-linecap="butt"/>
<text x="1297.30" y="242.40" font-size="27.78" text-anchor="end" fill="#262626">-0.250</text>
<line x1="1456.80" y1="236.00" x2="1456.80" y2="254.50" stroke="#262626" stroke-width="3.3" stroke-linecap="butt"/>
<text x="1456.80" y="286.10" font-size="27.78" text-anchor="middle" fill="#262626">50</text>
<line x1="1637.20" y1="236.00" x2="1637.20" y2="254.50" stroke="#262626" stroke-width="3.3" stroke-linecap="butt"/>
<text x="1637.20" y="286.10" font-size="27.78" text-anchor="middle" fill="#262626">100</text>
<text x="1487.30" y="327.20" font-size="30.56" text-anchor="middle" fill="#262626">Age</text>
<text x="1487.30" y="361.20" font-size="30.56" text-anchor="middle" fill="#262626">(years)</text>
<text transform="translate(1189.80,129.00) rotate(-90)" x="0" y="0" font-size="30.56" text-anchor="middle" fill="#262626">Effect</text>
<line x1="1325.70" y1="460.60" x2="1648.20" y2="460.60" stroke="#7a7a7a" stroke-opacity="0.2" stroke-width="3"/>
<line x1="1325.70" y1="565.20" x2="1648.20" y2="565.20" stroke="#7a7a7a" stroke-opacity="0.2" stroke-width="3"/>
<line x1="1380.30" y1="411.90" x2="1380.30" y2="625.30" stroke="#7a7a7a" stroke-opacity="0.2" stroke-width="3"/>
<line x1="1575.10" y1="411.90" x2="1575.10" y2="625.30" stroke="#7a7a7a" stroke-opacity="0.2" stroke-width="3"/>
<line x1="1341.34" y1="614.80" x2="1341.34" y2="625.30" stroke="#4068ae" stroke-opacity="0.20" stroke-width="2.9"/>
<line x1="1360.82" y1="614.80" x2="1360.82" y2="625.30" stroke="#4068ae" stroke-opacity="0.80" stroke-width="2.9"/>
<line x1="1380.30" y1="614.80" x2="1380.30" y2="625.30" stroke="#4068ae" stroke-opacity="0.85" stroke-width="2.9"/>
<line x1="1399.78" y1="614.80" x2="1399.78" y2="625.30" stroke="#4068ae" stroke-opacity="0.85" stroke-width="2.9"/>
<line x1="1419.26" y1="614.80" x2="1419.26" y2="625.30" stroke="#4068ae" stroke-opacity="0.85" stroke-width="2.9"/>
<line x1="1438.74" y1="614.80" x2="1438.74" y2="625.30" stroke="#4068ae" stroke-opacity="0.85" stroke-width="2.9"/>
<line x1="1458.22" y1="614.80" x2="1458.22" y2="625.30" stroke="#4068ae" stroke-opacity="0.85" stroke-width="2.9"/>
<line x1="1473.80" y1="614.80" x2="1473.80" y2="625.30" stroke="#4068ae" stroke-opacity="0.85" stroke-width="2.9"/>
<line x1="1477.70" y1="614.80" x2="1477.70" y2="625.30" stroke="#4068ae" stroke-opacity="0.90" stroke-width="2.9"/>
<line x1="1479.65" y1="614.80" x2="1479.65" y2="625.30" stroke="#4068ae" stroke-opacity="0.90" stroke-width="2.9"/>
<line x1="1481.60" y1="614.80" x2="1481.60" y2="625.30" stroke="#4068ae" stroke-opacity="0.90" stroke-width="2.9"/>
<line x1="1497.18" y1="614.80" x2="1497.18" y2="625.30" stroke="#4068ae" stroke-opacity="0.85" stroke-width="2.9"/>
<line x1="1516.66" y1="614.80" x2="1516.66" y2="625.30" stroke="#4068ae" stroke-opacity="0.85" stroke-width="2.9"/>
<line x1="1536.14" y1="614.80" x2="1536.14" y2="625.30" stroke="#4068ae" stroke-opacity="0.85" stroke-width="2.9"/>
<line x1="1555.62" y1="614.80" x2="1555.62" y2="625.30" stroke="#4068ae" stroke-opacity="0.85" stroke-width="2.9"/>
<line x1="1575.10" y1="614.80" x2="1575.10" y2="625.30" stroke="#4068ae" stroke-opacity="0.80" stroke-width="2.9"/>
<line x1="1594.58" y1="614.80" x2="1594.58" y2="625.30" stroke="#4068ae" stroke-opacity="0.30" stroke-width="2.9"/>
<line x1="1614.06" y1="614.80" x2="1614.06" y2="625.30" stroke="#4068ae" stroke-opacity="0.25" stroke-width="2.9"/>
<line x1="1633.54" y1="614.80" x2="1633.54" y2="625.30" stroke="#4068ae" stroke-opacity="0.20" stroke-width="2.9"/>
<polyline points="1389.9,612.2 1456.1,576.6 1481.5,576.6 1558.0,424.6" fill="none" stroke="#6549ae" stroke-width="4.17" stroke-linejoin="round" stroke-linecap="round"/>
<rect x="1325.70" y="411.90" width="322.50" height="213.40" fill="none" stroke="#262626" stroke-width="3.3"/>
<line x1="1308.10" y1="460.60" x2="1325.70" y2="460.60" stroke="#262626" stroke-width="3.3" stroke-linecap="butt"/>
<text x="1297.30" y="471.30" font-size="27.78" text-anchor="end" fill="#262626">0.200</text>
<line x1="1308.10" y1="565.20" x2="1325.70" y2="565.20" stroke="#262626" stroke-width="3.3" stroke-linecap="butt"/>
<text x="1297.30" y="575.90" font-size="27.78" text-anchor="end" fill="#262626">0.000</text>
<line x1="1380.30" y1="625.30" x2="1380.30" y2="643.80" stroke="#262626" stroke-width="3.3" stroke-linecap="butt"/>
<text x="1380.30" y="675.40" font-size="27.78" text-anchor="middle" fill="#262626">10</text>
<line x1="1575.10" y1="625.30" x2="1575.10" y2="643.80" stroke="#262626" stroke-width="3.3" stroke-linecap="butt"/>
<text x="1575.10" y="675.40" font-size="27.78" text-anchor="middle" fill="#262626">20</text>
<text x="1486.95" y="716.50" font-size="30.56" text-anchor="middle" fill="#262626">max Anion gap</text>
<text x="1486.95" y="750.50" font-size="30.56" text-anchor="middle" fill="#262626">(mmol/L)</text>
<text transform="translate(1200.00,518.60) rotate(-90)" x="0" y="0" font-size="30.56" text-anchor="middle" fill="#262626">Effect</text>
<line x1="1325.90" y1="794.70" x2="1648.30" y2="794.70" stroke="#7a7a7a" stroke-opacity="0.2" stroke-width="3"/>
<line x1="1325.90" y1="897.60" x2="1648.30" y2="897.60" stroke="#7a7a7a" stroke-opacity="0.2" stroke-width="3"/>
<line x1="1325.90" y1="999.80" x2="1648.30" y2="999.80" stroke="#7a7a7a" stroke-opacity="0.2" stroke-width="3"/>
<line x1="1456.80" y1="789.60" x2="1456.80" y2="1003.40" stroke="#7a7a7a" stroke-opacity="0.2" stroke-width="3"/>
<line x1="1637.20" y1="789.60" x2="1637.20" y2="1003.40" stroke="#7a7a7a" stroke-opacity="0.2" stroke-width="3"/>
<rect x="1386.44" y="992.90" width="234.52" height="10.5" fill="#4068ae" fill-opacity="0.35"/>
<line x1="1341.34" y1="992.90" x2="1341.34" y2="1003.40" stroke="#4068ae" stroke-opacity="0.20" stroke-width="2.9"/>
<line x1="1344.95" y1="992.90" x2="1344.95" y2="1003.40" stroke="#4068ae" stroke-opacity="0.20" stroke-width="2.9"/>
<line x1="1352.17" y1="992.90" x2="1352.17" y2="1003.40" stroke="#4068ae" stroke-opacity="0.25" stroke-width="2.9"/>
<line x1="1355.78" y1="992.90" x2="1355.78" y2="1003.40" stroke="#4068ae" stroke-opacity="0.35" stroke-width="2.9"/>
<line x1="1366.60" y1="992.90" x2="1366.60" y2="1003.40" stroke="#4068ae" stroke-opacity="0.45" stroke-width="2.9"/>
<line x1="1370.21" y1="992.90" x2="1370.21" y2="1003.40" stroke="#4068ae" stroke-opacity="0.45" stroke-width="2.9"/>
<line x1="1373.82" y1="992.90" x2="1373.82" y2="1003.40" stroke="#4068ae" stroke-opacity="0.25" stroke-width="2.9"/>
<line x1="1377.42" y1="992.90" x2="1377.42" y2="1003.40" stroke="#4068ae" stroke-opacity="0.40" stroke-width="2.9"/>
<line x1="1388.25" y1="992.90" x2="1388.25" y2="1003.40" stroke="#4068ae" stroke-opacity="0.60" stroke-width="2.9"/>
<line x1="1391.86" y1="992.90" x2="1391.86" y2="1003.40" stroke="#4068ae" stroke-opacity="0.35" stroke-width="2.9"/>
<line x1="1395.46" y1="992.90" x2="1395.46" y2="1003.40" stroke="#4068ae" stroke-opacity="0.75" stroke-width="2.9"/>
<line x1="1399.07" y1="992.90" x2="1399.07" y2="1003.40" stroke="#4068ae" stroke-opacity="0.55" stroke-width="2.9"/>
<line x1="1402.68" y1="992.90" x2="1402.68" y2="1003.40" stroke="#4068ae" stroke-opacity="0.30" stroke-width="2.9"/>
<line x1="1406.29" y1="992.90" x2="1406.29" y2="1003.40" stroke="#4068ae" stroke-opacity="0.30" stroke-width="2.9"/>
<line x1="1409.90" y1="992.90" x2="1409.90" y2="1003.40" stroke="#4068ae" stroke-opacity="0.75" stroke-width="2.9"/>
<line x1="1413.50" y1="992.90" x2="1413.50" y2="1003.40" stroke="#4068ae" stroke-opacity="0.75" stroke-width="2.9"/>
<line x1="1417.11" y1="992.90" x2="1417.11" y2="1003.40" stroke="#4068ae" stroke-opacity="0.75" stroke-width="2.9"/>
<line x1="1420.72" y1="992.90" x2="1420.72" y2="1003.40" stroke="#4068ae" stroke-opacity="0.35" stroke-width="2.9"/>
<line x1="1424.33" y1="992.90" x2="1424.33" y2="1003.40" stroke="#4068ae" stroke-opacity="0.75" stroke-width="2.9"/>
<line x1="1427.94" y1="992.90" x2="1427.94" y2="1003.40" stroke="#4068ae" stroke-opacity="0.88" stroke-width="2.9"/>
<line x1="1431.54" y1="992.90" x2="1431.54" y2="1003.40" stroke="#4068ae" stroke-opacity="0.88" stroke-width="2.9"/>
<line x1="1435.15" y1="992.90" x2="1435.15" y2="1003.40" stroke="#4068ae" stroke-opacity="0.88" stroke-width="2.9"/>
<line x1="1438.76" y1="992.90" x2="1438.76" y2="1003.40" stroke="#4068ae" stroke-opacity="0.70" stroke-width="2.9"/>
<line x1="1442.37" y1="992.90" x2="1442.37" y2="1003.40" stroke="#4068ae" stroke-opacity="0.88" stroke-width="2.9"/>
<line x1="1445.98" y1="992.90" x2="1445.98" y2="1003.40" stroke="#4068ae" stroke-opacity="0.88" stroke-width="2.9"/>
<line x1="1449.58" y1="992.90" x2="1449.58" y2="1003.40" stroke="#4068ae" stroke-opacity="0.88" stroke-width="2.9"/>
<line x1="1453.19" y1="992.90" x2="1453.19" y2="1003.40" stroke="#4068ae" stroke-opacity="0.88" stroke-width="2.9"/>
<line x1="1456.80" y1="992.90" x2="1456.80" y2="1003.40" stroke="#4068ae" stroke-opacity="0.70" stroke-width="2.9"/>
<line x1="1460.41" y1="992.90" x2="1460.41" y2="1003.40" stroke="#4068ae" stroke-opacity="0.88" stroke-width="2.9"/>
<line x1="1464.02" y1="992.90" x2="1464.02" y2="1003.40" stroke="#4068ae" stroke-opacity="0.88" stroke-width="2.9"/>
<line x1="1467.62" y1="992.90" x2="1467.62" y2="1003.40" stroke="#4068ae" stroke-opacity="0.88" stroke-width="2.9"/>
<line x1="1471.23" y1="992.90" x2="1471.23" y2="1003.40" stroke="#4068ae" stroke-opacity="0.88" stroke-width="2.9"/>
<line x1="1474.84" y1="992.90" x2="1474.84" y2="1003.40" stroke="#4068ae" stroke-opacity="0.70" stroke-width="2.9"/>
<line x1="1478.45" y1="992.90" x2="1478.45" y2="1003.40" stroke="#4068ae" stroke-opacity="0.88" stroke-width="2.9"/>
<line x1="1482.06" y1="992.90" x2="1482.06" y2="1003.40" stroke="#4068ae" stroke-opacity="0.88" stroke-width="2.9"/>
<line x1="1485.66" y1="992.90" x2="1485.66" y2="1003.40" stroke="#4068ae" stroke-opacity="0.88" stroke-width="2.9"/>
<line x1="1489.27" y1="992.90" x2="1489.27" y2="1003.40" stroke="#4068ae" stroke-opacity="0.88" stroke-width="2.9"/>
<line x1="1492.88" y1="992.90" x2="1492.88" y2="1003.40" stroke="#4068ae" stroke-opacity="0.70" stroke-width="2.9"/>
<line x1="1496.49" y1="992.90" x2="1496.49" y2="1003.40" stroke="#4068ae" stroke-opacity="0.88" stroke-width="2.9"/>
<line x1="1500.10" y1="992.90" x2="1500.10" y2="1003.40" stroke="#4068ae" stroke-opacity="0.88" stroke-width="2.9"/>
<line x1="1503.70" y1="992.90" x2="1503.70" y2="1003.40" stroke="#4068ae" stroke-opacity="0.88" stroke-width="2.9"/>
<line x1="1507.31" y1="992.90" x2="1507.31" y2="1003.40" stroke="#4068ae" stroke-opacity="0.88" stroke-width="2.9"/>
<line x1="1510.92" y1="992.90" x2="1510.92" y2="1003.40" stroke="#4068ae" stroke-opacity="0.70" stroke-width="2.9"/>
<line x1="1514.53" y1="992.90" x2="1514.53" y2="1003.40" stroke="#4068ae" stroke-opacity="0.88" stroke-width="2.9"/>
<line x1="1518.14" y1="992.90" x2="1518.14" y2="1003.40" stroke="#4068ae" stroke-opacity="0.88" stroke-width="2.9"/>
<line x1="1521.74" y1="992.90" x2="1521.74" y2="1003.40" stroke="#4068ae" stroke-opacity="0.88" stroke-width="2.9"/>
<line x1="1525.35" y1="992.90" x2="1525.35" y2="1003.40" stroke="#4068ae" stroke-opacity="0.88" stroke-width="2.9"/>
<line x1="1528.96" y1="992.90" x2="1528.96" y2="1003.40" stroke="#4068ae" stroke-opacity="0.70" stroke-width="2.9"/>
<line x1="1532.57" y1="992.90" x2="1532.57" y2="1003.40" stroke="#4068ae" stroke-opacity="0.88" stroke-width="2.9"/>
<line x1="1536.18" y1="992.90" x2="1536.18" y2="1003.40" stroke="#4068ae" stroke-opacity="0.88" stroke-width="2.9"/>
<line x1="1539.78" y1="992.90" x2="1539.78" y2="1003.40" stroke="#4068ae" stroke-opacity="0.88" stroke-width="2.9"/>
<line x1="1543.39" y1="992.90" x2="1543.39" y2="1003.40" stroke="#4068ae" stroke-opacity="0.88" stroke-width="2.9"/>
<line x1="1547.00" y1="992.90" x2="1547.00" y2="1003.40" stroke="#4068ae" stroke-opacity="0.70" stroke-width="2.9"/>
<line x1="1550.61" y1="992.90" x2="1550.61" y2="1003.40" stroke="#4068ae" stroke-opacity="0.88" stroke-width="2.9"/>
<line x1="1554.22" y1="992.90" x2="1554.22" y2="1003.40" stroke="#4068ae" stroke-opacity="0.88" stroke-width="2.9"/>
<line x1="1557.82" y1="992.90" x2="1557.82" y2="1003.40" stroke="#4068ae" stroke-opacity="0.88" stroke-width="2.9"/>
<line x1="1561.43" y1="992.90" x2="1561.43" y2="1003.40" stroke="#4068ae" stroke-opacity="0.88" stroke-width="2.9"/>
<line x1="1565.04" y1="992.90" x2="1565.04" y2="1003.40" stroke="#4068ae" stroke-opacity="0.70" stroke-width="2.9"/>
<line x1="1568.65" y1="992.90" x2="1568.65" y2="1003.40" stroke="#4068ae" stroke-opacity="0.88" stroke-width="2.9"/>
<line x1="1572.26" y1="992.90" x2="1572.26" y2="1003.40" stroke="#4068ae" stroke-opacity="0.88" stroke-width="2.9"/>
<line x1="1575.86" y1="992.90" x2="1575.86" y2="1003.40" stroke="#4068ae" stroke-opacity="0.88" stroke-width="2.9"/>
<line x1="1579.47" y1="992.90" x2="1579.47" y2="1003.40" stroke="#4068ae" stroke-opacity="0.88" stroke-width="2.9"/>
<line x1="1583.08" y1="992.90" x2="1583.08" y2="1003.40" stroke="#4068ae" stroke-opacity="0.70" stroke-width="2.9"/>
<line x1="1586.69" y1="992.90" x2="1586.69" y2="1003.40" stroke="#4068ae" stroke-opacity="0.88" stroke-width="2.9"/>
<line x1="1590.30" y1="992.90" x2="1590.30" y2="1003.40" stroke="#4068ae" stroke-opacity="0.88" stroke-width="2.9"/>
<line x1="1593.90" y1="992.90" x2="1593.90" y2="1003.40" stroke="#4068ae" stroke-opacity="0.88" stroke-width="2.9"/>
<line x1="1597.51" y1="992.90" x2="1597.51" y2="1003.40" stroke="#4068ae" stroke-opacity="0.88" stroke-width="2.9"/>
<line x1="1601.12" y1="992.90" x2="1601.12" y2="1003.40" stroke="#4068ae" stroke-opacity="0.70" stroke-width="2.9"/>
<line x1="1604.73" y1="992.90" x2="1604.73" y2="1003.40" stroke="#4068ae" stroke-opacity="0.88" stroke-width="2.9"/>
<line x1="1608.34" y1="992.90" x2="1608.34" y2="1003.40" stroke="#4068ae" stroke-opacity="0.60" stroke-width="2.9"/>
<line x1="1611.94" y1="992.90" x2="1611.94" y2="1003.40" stroke="#4068ae" stroke-opacity="0.60" stroke-width="2.9"/>
<line x1="1615.55" y1="992.90" x2="1615.55" y2="1003.40" stroke="#4068ae" stroke-opacity="0.45" stroke-width="2.9"/>
<line x1="1619.16" y1="992.90" x2="1619.16" y2="1003.40" stroke="#4068ae" stroke-opacity="0.55" stroke-width="2.9"/>
<line x1="1622.77" y1="992.90" x2="1622.77" y2="1003.40" stroke="#4068ae" stroke-opacity="0.35" stroke-width="2.9"/>
<line x1="1626.38" y1="992.90" x2="1626.38" y2="1003.40" stroke="#4068ae" stroke-opacity="0.30" stroke-width="2.9"/>
<line x1="1629.98" y1="992.90" x2="1629.98" y2="1003.40" stroke="#4068ae" stroke-opacity="0.20" stroke-width="2.9"/>
<line x1="1633.59" y1="992.90" x2="1633.59" y2="1003.40" stroke="#4068ae" stroke-opacity="0.20" stroke-width="2.9"/>
<polyline points="1387.5,799.2 1477.4,800.9 1497.9,803.6 1517.8,831.7 1537.4,964.9 1554.5,991.3 1570.0,993.7 1616.3,994.0" fill="none" stroke="#6549ae" stroke-width="4.17" stroke-linejoin="round" stroke-linecap="round"/>
<rect x="1325.90" y="789.60" width="322.40" height="213.80" fill="none" stroke="#262626" stroke-width="3.3"/>
<line x1="1308.10" y1="794.70" x2="1325.90" y2="794.70" stroke="#262626" stroke-width="3.3" stroke-linecap="butt"/>
<text x="1297.30" y="805.40" font-size="27.78" text-anchor="end" fill="#262626">0.050</text>
<line x1="1308.10" y1="897.60" x2="1325.90" y2="897.60" stroke="#262626" stroke-width="3.3" stroke-linecap="butt"/>
<text x="1297.30" y="908.30" font-size="27.78" text-anchor="end" fill="#262626">0.000</text>
<line x1="1308.10" y1="999.80" x2="1325.90" y2="999.80" stroke="#262626" stroke-width="3.3" stroke-linecap="butt"/>
<text x="1297.30" y="1010.50" font-size="27.78" text-anchor="end" fill="#262626">-0.050</text>
<line x1="1456.80" y1="1003.40" x2="1456.80" y2="1021.90" stroke="#262626" stroke-width="3.3" stroke-linecap="butt"/>
<text x="1456.80" y="1053.50" font-size="27.78" text-anchor="middle" fill="#262626">50</text>
<line x1="1637.20" y1="1003.40" x2="1637.20" y2="1021.90" stroke="#262626" stroke-width="3.3" stroke-linecap="butt"/>
<text x="1637.20" y="1053.50" font-size="27.78" text-anchor="middle" fill="#262626">100</text>
<text x="1487.10" y="1094.60" font-size="30.56" text-anchor="middle" fill="#262626">Age</text>
<text x="1487.10" y="1128.60" font-size="30.56" text-anchor="middle" fill="#262626">(years)</text>
<text transform="translate(1189.80,896.50) rotate(-90)" x="0" y="0" font-size="30.56" text-anchor="middle" fill="#262626">Effect</text>
<line x1="1325.70" y1="1192.90" x2="1648.20" y2="1192.90" stroke="#7a7a7a" stroke-opacity="0.2" stroke-width="3"/>
<line x1="1325.70" y1="1280.70" x2="1648.20" y2="1280.70" stroke="#7a7a7a" stroke-opacity="0.2" stroke-width="3"/>
<line x1="1325.70" y1="1368.50" x2="1648.20" y2="1368.50" stroke="#7a7a7a" stroke-opacity="0.2" stroke-width="3"/>
<line x1="1387.30" y1="1179.30" x2="1387.30" y2="1393.60" stroke="#7a7a7a" stroke-opacity="0.2" stroke-width="3"/>
<line x1="1521.10" y1="1179.30" x2="1521.10" y2="1393.60" stroke="#7a7a7a" stroke-opacity="0.2" stroke-width="3"/>
<line x1="1340.47" y1="1383.10" x2="1340.47" y2="1393.60" stroke="#4068ae" stroke-opacity="0.20" stroke-width="2.9"/>
<line x1="1360.54" y1="1383.10" x2="1360.54" y2="1393.60" stroke="#4068ae" stroke-opacity="0.85" stroke-width="2.9"/>
<line x1="1367.23" y1="1383.10" x2="1367.23" y2="1393.60" stroke="#4068ae" stroke-opacity="0.85" stroke-width="2.9"/>
<line x1="1373.92" y1="1383.10" x2="1373.92" y2="1393.60" stroke="#4068ae" stroke-opacity="0.85" stroke-width="2.9"/>
<line x1="1380.61" y1="1383.10" x2="1380.61" y2="1393.60" stroke="#4068ae" stroke-opacity="0.85" stroke-width="2.9"/>
<line x1="1387.30" y1="1383.10" x2="1387.30" y2="1393.60" stroke="#4068ae" stroke-opacity="0.85" stroke-width="2.9"/>
<line x1="1393.99" y1="1383.10" x2="1393.99" y2="1393.60" stroke="#4068ae" stroke-opacity="0.85" stroke-width="2.9"/>
<line x1="1400.68" y1="1383.10" x2="1400.68" y2="1393.60" stroke="#4068ae" stroke-opacity="0.85" stroke-width="2.9"/>
<line x1="1407.37" y1="1383.10" x2="1407.37" y2="1393.60" stroke="#4068ae" stroke-opacity="0.85" stroke-width="2.9"/>
<line x1="1414.06" y1="1383.10" x2="1414.06" y2="1393.60" stroke="#4068ae" stroke-opacity="0.85" stroke-width="2.9"/>
<line x1="1420.75" y1="1383.10" x2="1420.75" y2="1393.60" stroke="#4068ae" stroke-opacity="0.85" stroke-width="2.9"/>
<line x1="1427.44" y1="1383.10" x2="1427.44" y2="1393.60" stroke="#4068ae" stroke-opacity="0.85" stroke-width="2.9"/>
<line x1="1434.13" y1="1383.10" x2="1434.13" y2="1393.60" stroke="#4068ae" stroke-opacity="0.85" stroke-width="2.9"/>
<line x1="1440.82" y1="1383.10" x2="1440.82" y2="1393.60" stroke="#4068ae" stroke-opacity="0.85" stroke-width="2.9"/>
<line x1="1447.51" y1="1383.10" x2="1447.51" y2="1393.60" stroke="#4068ae" stroke-opacity="0.85" stroke-width="2.9"/>
<line x1="1454.20" y1="1383.10" x2="1454.20" y2="1393.60" stroke="#4068ae" stroke-opacity="0.85" stroke-width="2.9"/>
<line x1="1460.89" y1="1383.10" x2="1460.89" y2="1393.60" stroke="#4068ae" stroke-opacity="0.85" stroke-width="2.9"/>
<line x1="1467.58" y1="1383.10" x2="1467.58" y2="1393.60" stroke="#4068ae" stroke-opacity="0.85" stroke-width="2.9"/>
<line x1="1474.27" y1="1383.10" x2="1474.27" y2="1393.60" stroke="#4068ae" stroke-opacity="0.85" stroke-width="2.9"/>
<line x1="1480.96" y1="1383.10" x2="1480.96" y2="1393.60" stroke="#4068ae" stroke-opacity="0.85" stroke-width="2.9"/>
<line x1="1487.65" y1="1383.10" x2="1487.65" y2="1393.60" stroke="#4068ae" stroke-opacity="0.85" stroke-width="2.9"/>
<line x1="1494.34" y1="1383.10" x2="1494.34" y2="1393.60" stroke="#4068ae" stroke-opacity="0.85" stroke-width="2.9"/>
<line x1="1501.03" y1="1383.10" x2="1501.03" y2="1393.60" stroke="#4068ae" stroke-opacity="0.85" stroke-width="2.9"/>
<line x1="1507.72" y1="1383.10" x2="1507.72" y2="1393.60" stroke="#4068ae" stroke-opacity="0.85" stroke-width="2.9"/>
<line x1="1514.41" y1="1383.10" x2="1514.41" y2="1393.60" stroke="#4068ae" stroke-opacity="0.85" stroke-width="2.9"/>
<line x1="1521.10" y1="1383.10" x2="1521.10" y2="1393.60" stroke="#4068ae" stroke-opacity="0.85" stroke-width="2.9"/>
<line x1="1527.79" y1="1383.10" x2="1527.79" y2="1393.60" stroke="#4068ae" stroke-opacity="0.30" stroke-width="2.9"/>
<line x1="1534.48" y1="1383.10" x2="1534.48" y2="1393.60" stroke="#4068ae" stroke-opacity="0.65" stroke-width="2.9"/>
<line x1="1541.17" y1="1383.10" x2="1541.17" y2="1393.60" stroke="#4068ae" stroke-opacity="0.65" stroke-width="2.9"/>
<line x1="1547.86" y1="1383.10" x2="1547.86" y2="1393.60" stroke="#4068ae" stroke-opacity="0.65" stroke-width="2.9"/>
<line x1="1554.55" y1="1383.10" x2="1554.55" y2="1393.60" stroke="#4068ae" stroke-opacity="0.65" stroke-width="2.9"/>
<line x1="1561.24" y1="1383.10" x2="1561.24" y2="1393.60" stroke="#4068ae" stroke-opacity="0.65" stroke-width="2.9"/>
<line x1="1567.93" y1="1383.10" x2="1567.93" y2="1393.60" stroke="#4068ae" stroke-opacity="0.28" stroke-width="2.9"/>
<line x1="1574.62" y1="1383.10" x2="1574.62" y2="1393.60" stroke="#4068ae" stroke-opacity="0.28" stroke-width="2.9"/>
<line x1="1581.31" y1="1383.10" x2="1581.31" y2="1393.60" stroke="#4068ae" stroke-opacity="0.28" stroke-width="2.9"/>
<line x1="1588.00" y1="1383.10" x2="1588.00" y2="1393.60" stroke="#4068ae" stroke-opacity="0.28" stroke-width="2.9"/>
<line x1="1594.69" y1="1383.10" x2="1594.69" y2="1393.60" stroke="#4068ae" stroke-opacity="0.28" stroke-width="2.9"/>
<line x1="1601.38" y1="1383.10" x2="1601.38" y2="1393.60" stroke="#4068ae" stroke-opacity="0.28" stroke-width="2.9"/>
<line x1="1628.14" y1="1383.10" x2="1628.14" y2="1393.60" stroke="#4068ae" stroke-opacity="0.20" stroke-width="2.9"/>
<line x1="1634.83" y1="1383.10" x2="1634.83" y2="1393.60" stroke="#4068ae" stroke-opacity="0.20" stroke-width="2.9"/>
<polyline points="1360.0,1382.6 1384.0,1383.3 1394.3,1377.8 1407.7,1350.0 1420.8,1285.5 1433.8,1236.8 1447.5,1204.9 1468.8,1200.4 1522.0,1193.9 1571.7,1189.5" fill="none" stroke="#6549ae" stroke-width="4.17" stroke-linejoin="round" stroke-linecap="round"/>
<rect x="1325.70" y="1179.30" width="322.50" height="214.30" fill="none" stroke="#262626" stroke-width="3.3"/>
<line x1="1308.10" y1="1192.90" x2="1325.70" y2="1192.90" stroke="#262626" stroke-width="3.3" stroke-linecap="butt"/>
<text x="1297.30" y="1203.60" font-size="27.78" text-anchor="end" fill="#262626">0.025</text>
<line x1="1308.10" y1="1280.70" x2="1325.70" y2="1280.70" stroke="#262626" stroke-width="3.3" stroke-linecap="butt"/>
<text x="1297.30" y="1291.40" font-size="27.78" text-anchor="end" fill="#262626">0.000</text>
<line x1="1308.10" y1="1368.50" x2="1325.70" y2="1368.50" stroke="#262626" stroke-width="3.3" stroke-linecap="butt"/>
<text x="1297.30" y="1379.20" font-size="27.78" text-anchor="end" fill="#262626">-0.025</text>
<line x1="1387.30" y1="1393.60" x2="1387.30" y2="1412.10" stroke="#262626" stroke-width="3.3" stroke-linecap="butt"/>
<text x="1387.30" y="1443.70" font-size="27.78" text-anchor="middle" fill="#262626">20</text>
<line x1="1521.10" y1="1393.60" x2="1521.10" y2="1412.10" stroke="#262626" stroke-width="3.3" stroke-linecap="butt"/>
<text x="1521.10" y="1443.70" font-size="27.78" text-anchor="middle" fill="#262626">40</text>
<text x="1486.95" y="1484.80" font-size="30.56" text-anchor="middle" fill="#262626">max Respiratory rate</text>
<text x="1486.95" y="1518.80" font-size="30.56" text-anchor="middle" fill="#262626">(breaths per minute)</text>
<text transform="translate(1189.80,1286.45) rotate(-90)" x="0" y="0" font-size="30.56" text-anchor="middle" fill="#262626">Effect</text>
<line x1="1325.90" y1="1584.90" x2="1648.30" y2="1584.90" stroke="#7a7a7a" stroke-opacity="0.2" stroke-width="3"/>
<line x1="1325.90" y1="1668.30" x2="1648.30" y2="1668.30" stroke="#7a7a7a" stroke-opacity="0.2" stroke-width="3"/>
<line x1="1325.90" y1="1751.30" x2="1648.30" y2="1751.30" stroke="#7a7a7a" stroke-opacity="0.2" stroke-width="3"/>
<line x1="1456.80" y1="1556.80" x2="1456.80" y2="1771.80" stroke="#7a7a7a" stroke-opacity="0.2" stroke-width="3"/>
<line x1="1637.20" y1="1556.80" x2="1637.20" y2="1771.80" stroke="#7a7a7a" stroke-opacity="0.2" stroke-width="3"/>
<rect x="1386.44" y="1761.30" width="234.52" height="10.5" fill="#4068ae" fill-opacity="0.35"/>
<line x1="1341.34" y1="1761.30" x2="1341.34" y2="1771.80" stroke="#4068ae" stroke-opacity="0.20" stroke-width="2.9"/>
<line x1="1344.95" y1="1761.30" x2="1344.95" y2="1771.80" stroke="#4068ae" stroke-opacity="0.20" stroke-width="2.9"/>
<line x1="1352.17" y1="1761.30" x2="1352.17" y2="1771.80" stroke="#4068ae" stroke-opacity="0.25" stroke-width="2.9"/>
<line x1="1355.78" y1="1761.30" x2="1355.78" y2="1771.80" stroke="#4068ae" stroke-opacity="0.35" stroke-width="2.9"/>
<line x1="1366.60" y1="1761.30" x2="1366.60" y2="1771.80" stroke="#4068ae" stroke-opacity="0.45" stroke-width="2.9"/>
<line x1="1370.21" y1="1761.30" x2="1370.21" y2="1771.80" stroke="#4068ae" stroke-opacity="0.45" stroke-width="2.9"/>
<line x1="1373.82" y1="1761.30" x2="1373.82" y2="1771.80" stroke="#4068ae" stroke-opacity="0.25" stroke-width="2.9"/>
<line x1="1377.42" y1="1761.30" x2="1377.42" y2="1771.80" stroke="#4068ae" stroke-opacity="0.40" stroke-width="2.9"/>
<line x1="1388.25" y1="1761.30" x2="1388.25" y2="1771.80" stroke="#4068ae" stroke-opacity="0.60" stroke-width="2.9"/>
<line x1="1391.86" y1="1761.30" x2="1391.86" y2="1771.80" stroke="#4068ae" stroke-opacity="0.35" stroke-width="2.9"/>
<line x1="1395.46" y1="1761.30" x2="1395.46" y2="1771.80" stroke="#4068ae" stroke-opacity="0.75" stroke-width="2.9"/>
<line x1="1399.07" y1="1761.30" x2="1399.07" y2="1771.80" stroke="#4068ae" stroke-opacity="0.55" stroke-width="2.9"/>
<line x1="1402.68" y1="1761.30" x2="1402.68" y2="1771.80" stroke="#4068ae" stroke-opacity="0.30" stroke-width="2.9"/>
<line x1="1406.29" y1="1761.30" x2="1406.29" y2="1771.80" stroke="#4068ae" stroke-opacity="0.30" stroke-width="2.9"/>
<line x1="1409.90" y1="1761.30" x2="1409.90" y2="1771.80" stroke="#4068ae" stroke-opacity="0.75" stroke-width="2.9"/>
<line x1="1413.50" y1="1761.30" x2="1413.50" y2="1771.80" stroke="#4068ae" stroke-opacity="0.75" stroke-width="2.9"/>
<line x1="1417.11" y1="1761.30" x2="1417.11" y2="1771.80" stroke="#4068ae" stroke-opacity="0.75" stroke-width="2.9"/>
<line x1="1420.72" y1="1761.30" x2="1420.72" y2="1771.80" stroke="#4068ae" stroke-opacity="0.35" stroke-width="2.9"/>
<line x1="1424.33" y1="1761.30" x2="1424.33" y2="1771.80" stroke="#4068ae" stroke-opacity="0.75" stroke-width="2.9"/>
<line x1="1427.94" y1="1761.30" x2="1427.94" y2="1771.80" stroke="#4068ae" stroke-opacity="0.88" stroke-width="2.9"/>
<line x1="1431.54" y1="1761.30" x2="1431.54" y2="1771.80" stroke="#4068ae" stroke-opacity="0.88" stroke-width="2.9"/>
<line x1="1435.15" y1="1761.30" x2="1435.15" y2="1771.80" stroke="#4068ae" stroke-opacity="0.88" stroke-width="2.9"/>
<line x1="1438.76" y1="1761.30" x2="1438.76" y2="1771.80" stroke="#4068ae" stroke-opacity="0.70" stroke-width="2.9"/>
<line x1="1442.37" y1="1761.30" x2="1442.37" y2="1771.80" stroke="#4068ae" stroke-opacity="0.88" stroke-width="2.9"/>
<line x1="1445.98" y1="1761.30" x2="1445.98" y2="1771.80" stroke="#4068ae" stroke-opacity="0.88" stroke-width="2.9"/>
<line x1="1449.58" y1="1761.30" x2="1449.58" y2="1771.80" stroke="#4068ae" stroke-opacity="0.88" stroke-width="2.9"/>
<line x1="1453.19" y1="1761.30" x2="1453.19" y2="1771.80" stroke="#4068ae" stroke-opacity="0.88" stroke-width="2.9"/>
<line x1="1456.80" y1="1761.30" x2="1456.80" y2="1771.80" stroke="#4068ae" stroke-opacity="0.70" stroke-width="2.9"/>
<line x1="1460.41" y1="1761.30" x2="1460.41" y2="1771.80" stroke="#4068ae" stroke-opacity="0.88" stroke-width="2.9"/>
<line x1="1464.02" y1="1761.30" x2="1464.02" y2="1771.80" stroke="#4068ae" stroke-opacity="0.88" stroke-width="2.9"/>
<line x1="1467.62" y1="1761.30" x2="1467.62" y2="1771.80" stroke="#4068ae" stroke-opacity="0.88" stroke-width="2.9"/>
<line x1="1471.23" y1="1761.30" x2="1471.23" y2="1771.80" stroke="#4068ae" stroke-opacity="0.88" stroke-width="2.9"/>
<line x1="1474.84" y1="1761.30" x2="1474.84" y2="1771.80" stroke="#4068ae" stroke-opacity="0.70" stroke-width="2.9"/>
<line x1="1478.45" y1="1761.30" x2="1478.45" y2="1771.80" stroke="#4068ae" stroke-opacity="0.88" stroke-width="2.9"/>
<line x1="1482.06" y1="1761.30" x2="1482.06" y2="1771.80" stroke="#4068ae" stroke-opacity="0.88" stroke-width="2.9"/>
<line x1="1485.66" y1="1761.30" x2="1485.66" y2="1771.80" stroke="#4068ae" stroke-opacity="0.88" stroke-width="2.9"/>
<line x1="1489.27" y1="1761.30" x2="1489.27" y2="1771.80" stroke="#4068ae" stroke-opacity="0.88" stroke-width="2.9"/>
<line x1="1492.88" y1="1761.30" x2="1492.88" y2="1771.80" stroke="#4068ae" stroke-opacity="0.70" stroke-width="2.9"/>
<line x1="1496.49" y1="1761.30" x2="1496.49" y2="1771.80" stroke="#4068ae" stroke-opacity="0.88" stroke-width="2.9"/>
<line x1="1500.10" y1="1761.30" x2="1500.10" y2="1771.80" stroke="#4068ae" stroke-opacity="0.88" stroke-width="2.9"/>
<line x1="1503.70" y1="1761.30" x2="1503.70" y2="1771.80" stroke="#4068ae" stroke-opacity="0.88" stroke-width="2.9"/>
<line x1="1507.31" y1="1761.30" x2="1507.31" y2="1771.80" stroke="#4068ae" stroke-opacity="0.88" stroke-width="2.9"/>
<line x1="1510.92" y1="1761.30" x2="1510.92" y2="1771.80" stroke="#4068ae" stroke-opacity="0.70" stroke-width="2.9"/>
<line x1="1514.53" y1="1761.30" x2="1514.53" y2="1771.80" stroke="#4068ae" stroke-opacity="0.88" stroke-width="2.9"/>
<line x1="1518.14" y1="1761.30" x2="1518.14" y2="1771.80" stroke="#4068ae" stroke-opacity="0.88" stroke-width="2.9"/>
<line x1="1521.74" y1="1761.30" x2="1521.74" y2="1771.80" stroke="#4068ae" stroke-opacity="0.88" stroke-width="2.9"/>
<line x1="1525.35" y1="1761.30" x2="1525.35" y2="1771.80" stroke="#4068ae" stroke-opacity="0.88" stroke-width="2.9"/>
<line x1="1528.96" y1="1761.30" x2="1528.96" y2="1771.80" stroke="#4068ae" stroke-opacity="0.70" stroke-width="2.9"/>
<line x1="1532.57" y1="1761.30" x2="1532.57" y2="1771.80" stroke="#4068ae" stroke-opacity="0.88" stroke-width="2.9"/>
<line x1="1536.18" y1="1761.30" x2="1536.18" y2="1771.80" stroke="#4068ae" stroke-opacity="0.88" stroke-width="2.9"/>
<line x1="1539.78" y1="1761.30" x2="1539.78" y2="1771.80" stroke="#4068ae" stroke-opacity="0.88" stroke-width="2.9"/>
<line x1="1543.39" y1="1761.30" x2="1543.39" y2="1771.80" stroke="#4068ae" stroke-opacity="0.88" stroke-width="2.9"/>
<line x1="1547.00" y1="1761.30" x2="1547.00" y2="1771.80" stroke="#4068ae" stroke-opacity="0.70" stroke-width="2.9"/>
<line x1="1550.61" y1="1761.30" x2="1550.61" y2="1771.80" stroke="#4068ae" stroke-opacity="0.88" stroke-width="2.9"/>
<line x1="1554.22" y1="1761.30" x2="1554.22" y2="1771.80" stroke="#4068ae" stroke-opacity="0.88" stroke-width="2.9"/>
<line x1="1557.82" y1="1761.30" x2="1557.82" y2="1771.80" stroke="#4068ae" stroke-opacity="0.88" stroke-width="2.9"/>
<line x1="1561.43" y1="1761.30" x2="1561.43" y2="1771.80" stroke="#4068ae" stroke-opacity="0.88" stroke-width="2.9"/>
<line x1="1565.04" y1="1761.30" x2="1565.04" y2="1771.80" stroke="#4068ae" stroke-opacity="0.70" stroke-width="2.9"/>
<line x1="1568.65" y1="1761.30" x2="1568.65" y2="1771.80" stroke="#4068ae" stroke-opacity="0.88" stroke-width="2.9"/>
<line x1="1572.26" y1="1761.30" x2="1572.26" y2="1771.80" stroke="#4068ae" stroke-opacity="0.88" stroke-width="2.9"/>
<line x1="1575.86" y1="1761.30" x2="1575.86" y2="1771.80" stroke="#4068ae" stroke-opacity="0.88" stroke-width="2.9"/>
<line x1="1579.47" y1="1761.30" x2="1579.47" y2="1771.80" stroke="#4068ae" stroke-opacity="0.88" stroke-width="2.9"/>
<line x1="1583.08" y1="1761.30" x2="1583.08" y2="1771.80" stroke="#4068ae" stroke-opacity="0.70" stroke-width="2.9"/>
<line x1="1586.69" y1="1761.30" x2="1586.69" y2="1771.80" stroke="#4068ae" stroke-opacity="0.88" stroke-width="2.9"/>
<line x1="1590.30" y1="1761.30" x2="1590.30" y2="1771.80" stroke="#4068ae" stroke-opacity="0.88" stroke-width="2.9"/>
<line x1="1593.90" y1="1761.30" x2="1593.90" y2="1771.80" stroke="#4068ae" stroke-opacity="0.88" stroke-width="2.9"/>
<line x1="1597.51" y1="1761.30" x2="1597.51" y2="1771.80" stroke="#4068ae" stroke-opacity="0.88" stroke-width="2.9"/>
<line x1="1601.12" y1="1761.30" x2="1601.12" y2="1771.80" stroke="#4068ae" stroke-opacity="0.70" stroke-width="2.9"/>
<line x1="1604.73" y1="1761.30" x2="1604.73" y2="1771.80" stroke="#4068ae" stroke-opacity="0.88" stroke-width="2.9"/>
<line x1="1608.34" y1="1761.30" x2="1608.34" y2="1771.80" stroke="#4068ae" stroke-opacity="0.60" stroke-width="2.9"/>
<line x1="1611.94" y1="1761.30" x2="1611.94" y2="1771.80" stroke="#4068ae" stroke-opacity="0.60" stroke-width="2.9"/>
<line x1="1615.55" y1="1761.30" x2="1615.55" y2="1771.80" stroke="#4068ae" stroke-opacity="0.45" stroke-width="2.9"/>
<line x1="1619.16" y1="1761.30" x2="1619.16" y2="1771.80" stroke="#4068ae" stroke-opacity="0.55" stroke-width="2.9"/>
<line x1="1622.77" y1="1761.30" x2="1622.77" y2="1771.80" stroke="#4068ae" stroke-opacity="0.35" stroke-width="2.9"/>
<line x1="1626.38" y1="1761.30" x2="1626.38" y2="1771.80" stroke="#4068ae" stroke-opacity="0.30" stroke-width="2.9"/>
<line x1="1629.98" y1="1761.30" x2="1629.98" y2="1771.80" stroke="#4068ae" stroke-opacity="0.20" stroke-width="2.9"/>
<line x1="1633.59" y1="1761.30" x2="1633.59" y2="1771.80" stroke="#4068ae" stroke-opacity="0.20" stroke-width="2.9"/>
<polyline points="1387.5,1596.9 1453.3,1580.4 1478.4,1566.7 1498.0,1568.8 1517.8,1589.3 1537.4,1735.8 1554.5,1761.6 1616.3,1761.6" fill="none" stroke="#6549ae" stroke-width="4.17" stroke-linejoin="round" stroke-linecap="round"/>
<rect x="1325.90" y="1556.80" width="322.40" height="215.00" fill="none" stroke="#262626" stroke-width="3.3"/>
<line x1="1308.10" y1="1584.90" x2="1325.90" y2="1584.90" stroke="#262626" stroke-width="3.3" stroke-linecap="butt"/>
<text x="1297.30" y="1595.60" font-size="27.78" text-anchor="end" fill="#262626">0.100</text>
<line x1="1308.10" y1="1668.30" x2="1325.90" y2="1668.30" stroke="#262626" stroke-width="3.3" stroke-linecap="butt"/>
<text x="1297.30" y="1679.00" font-size="27.78" text-anchor="end" fill="#262626">0.000</text>
<line x1="1308.10" y1="1751.30" x2="1325.90" y2="1751.30" stroke="#262626" stroke-width="3.3" stroke-linecap="butt"/>
<text x="1297.30" y="1762.00" font-size="27.78" text-anchor="end" fill="#262626">-0.100</text>
<line x1="1456.80" y1="1771.80" x2="1456.80" y2="1790.30" stroke="#262626" stroke-width="3.3" stroke-linecap="butt"/>
<text x="1456.80" y="1821.90" font-size="27.78" text-anchor="middle" fill="#262626">50</text>
<line x1="1637.20" y1="1771.80" x2="1637.20" y2="1790.30" stroke="#262626" stroke-width="3.3" stroke-linecap="butt"/>
<text x="1637.20" y="1821.90" font-size="27.78" text-anchor="middle" fill="#262626">100</text>
<text x="1487.10" y="1863.00" font-size="30.56" text-anchor="middle" fill="#262626">Age</text>
<text x="1487.10" y="1897.00" font-size="30.56" text-anchor="middle" fill="#262626">(years)</text>
<text transform="translate(1189.80,1664.30) rotate(-90)" x="0" y="0" font-size="30.56" text-anchor="middle" fill="#262626">Effect</text>
<line x1="1325.70" y1="1999.90" x2="1648.20" y2="1999.90" stroke="#7a7a7a" stroke-opacity="0.2" stroke-width="3"/>
<line x1="1325.70" y1="2094.60" x2="1648.20" y2="2094.60" stroke="#7a7a7a" stroke-opacity="0.2" stroke-width="3"/>
<line x1="1432.10" y1="1946.30" x2="1432.10" y2="2161.50" stroke="#7a7a7a" stroke-opacity="0.2" stroke-width="3"/>
<line x1="1615.60" y1="1946.30" x2="1615.60" y2="2161.50" stroke="#7a7a7a" stroke-opacity="0.2" stroke-width="3"/>
<line x1="1340.35" y1="2151.00" x2="1340.35" y2="2161.50" stroke="#4068ae" stroke-opacity="0.20" stroke-width="2.9"/>
<line x1="1349.52" y1="2151.00" x2="1349.52" y2="2161.50" stroke="#4068ae" stroke-opacity="0.20" stroke-width="2.9"/>
<line x1="1367.88" y1="2151.00" x2="1367.88" y2="2161.50" stroke="#4068ae" stroke-opacity="0.85" stroke-width="2.9"/>
<line x1="1377.05" y1="2151.00" x2="1377.05" y2="2161.50" stroke="#4068ae" stroke-opacity="0.50" stroke-width="2.9"/>
<line x1="1386.22" y1="2151.00" x2="1386.22" y2="2161.50" stroke="#4068ae" stroke-opacity="0.85" stroke-width="2.9"/>
<line x1="1395.40" y1="2151.00" x2="1395.40" y2="2161.50" stroke="#4068ae" stroke-opacity="0.85" stroke-width="2.9"/>
<line x1="1404.57" y1="2151.00" x2="1404.57" y2="2161.50" stroke="#4068ae" stroke-opacity="0.85" stroke-width="2.9"/>
<line x1="1413.75" y1="2151.00" x2="1413.75" y2="2161.50" stroke="#4068ae" stroke-opacity="0.85" stroke-width="2.9"/>
<line x1="1422.92" y1="2151.00" x2="1422.92" y2="2161.50" stroke="#4068ae" stroke-opacity="0.85" stroke-width="2.9"/>
<line x1="1432.10" y1="2151.00" x2="1432.10" y2="2161.50" stroke="#4068ae" stroke-opacity="0.85" stroke-width="2.9"/>
<line x1="1441.27" y1="2151.00" x2="1441.27" y2="2161.50" stroke="#4068ae" stroke-opacity="0.85" stroke-width="2.9"/>
<line x1="1450.45" y1="2151.00" x2="1450.45" y2="2161.50" stroke="#4068ae" stroke-opacity="0.80" stroke-width="2.9"/>
<line x1="1454.12" y1="2151.00" x2="1454.12" y2="2161.50" stroke="#4068ae" stroke-opacity="0.50" stroke-width="2.9"/>
<line x1="1456.87" y1="2151.00" x2="1456.87" y2="2161.50" stroke="#4068ae" stroke-opacity="0.40" stroke-width="2.9"/>
<line x1="1459.62" y1="2151.00" x2="1459.62" y2="2161.50" stroke="#4068ae" stroke-opacity="0.85" stroke-width="2.9"/>
<line x1="1468.80" y1="2151.00" x2="1468.80" y2="2161.50" stroke="#4068ae" stroke-opacity="0.85" stroke-width="2.9"/>
<line x1="1477.97" y1="2151.00" x2="1477.97" y2="2161.50" stroke="#4068ae" stroke-opacity="0.85" stroke-width="2.9"/>
<line x1="1487.15" y1="2151.00" x2="1487.15" y2="2161.50" stroke="#4068ae" stroke-opacity="0.85" stroke-width="2.9"/>
<line x1="1496.32" y1="2151.00" x2="1496.32" y2="2161.50" stroke="#4068ae" stroke-opacity="0.85" stroke-width="2.9"/>
<line x1="1505.50" y1="2151.00" x2="1505.50" y2="2161.50" stroke="#4068ae" stroke-opacity="0.85" stroke-width="2.9"/>
<line x1="1514.67" y1="2151.00" x2="1514.67" y2="2161.50" stroke="#4068ae" stroke-opacity="0.85" stroke-width="2.9"/>
<line x1="1523.85" y1="2151.00" x2="1523.85" y2="2161.50" stroke="#4068ae" stroke-opacity="0.85" stroke-width="2.9"/>
<line x1="1533.02" y1="2151.00" x2="1533.02" y2="2161.50" stroke="#4068ae" stroke-opacity="0.85" stroke-width="2.9"/>
<line x1="1542.20" y1="2151.00" x2="1542.20" y2="2161.50" stroke="#4068ae" stroke-opacity="0.85" stroke-width="2.9"/>
<line x1="1551.38" y1="2151.00" x2="1551.38" y2="2161.50" stroke="#4068ae" stroke-opacity="0.30" stroke-width="2.9"/>
<line x1="1560.55" y1="2151.00" x2="1560.55" y2="2161.50" stroke="#4068ae" stroke-opacity="0.60" stroke-width="2.9"/>
<line x1="1569.72" y1="2151.00" x2="1569.72" y2="2161.50" stroke="#4068ae" stroke-opacity="0.45" stroke-width="2.9"/>
<line x1="1578.90" y1="2151.00" x2="1578.90" y2="2161.50" stroke="#4068ae" stroke-opacity="0.60" stroke-width="2.9"/>
<line x1="1588.07" y1="2151.00" x2="1588.07" y2="2161.50" stroke="#4068ae" stroke-opacity="0.35" stroke-width="2.9"/>
<line x1="1597.25" y1="2151.00" x2="1597.25" y2="2161.50" stroke="#4068ae" stroke-opacity="0.65" stroke-width="2.9"/>
<line x1="1606.42" y1="2151.00" x2="1606.42" y2="2161.50" stroke="#4068ae" stroke-opacity="0.30" stroke-width="2.9"/>
<line x1="1615.60" y1="2151.00" x2="1615.60" y2="2161.50" stroke="#4068ae" stroke-opacity="0.45" stroke-width="2.9"/>
<line x1="1624.77" y1="2151.00" x2="1624.77" y2="2161.50" stroke="#4068ae" stroke-opacity="0.20" stroke-width="2.9"/>
<line x1="1633.95" y1="2151.00" x2="1633.95" y2="2161.50" stroke="#4068ae" stroke-opacity="0.25" stroke-width="2.9"/>
<polyline points="1368.0,2147.5 1405.3,2146.6 1418.4,2145.5 1432.3,2147.5 1441.4,2091.5 1459.6,2095.9 1477.4,2039.7 1506.6,2020.8 1544.3,1987.2 1579.2,1960.4" fill="none" stroke="#6549ae" stroke-width="4.17" stroke-linejoin="round" stroke-linecap="round"/>
<rect x="1325.70" y="1946.30" width="322.50" height="215.20" fill="none" stroke="#262626" stroke-width="3.3"/>
<line x1="1308.10" y1="1999.90" x2="1325.70" y2="1999.90" stroke="#262626" stroke-width="3.3" stroke-linecap="butt"/>
<text x="1297.30" y="2010.60" font-size="27.78" text-anchor="end" fill="#262626">0.050</text>
<line x1="1308.10" y1="2094.60" x2="1325.70" y2="2094.60" stroke="#262626" stroke-width="3.3" stroke-linecap="butt"/>
<text x="1297.30" y="2105.30" font-size="27.78" text-anchor="end" fill="#262626">0.000</text>
<line x1="1432.10" y1="2161.50" x2="1432.10" y2="2180.00" stroke="#262626" stroke-width="3.3" stroke-linecap="butt"/>
<text x="1432.10" y="2211.60" font-size="27.78" text-anchor="middle" fill="#262626">20</text>
<line x1="1615.60" y1="2161.50" x2="1615.60" y2="2180.00" stroke="#262626" stroke-width="3.3" stroke-linecap="butt"/>
<text x="1615.60" y="2211.60" font-size="27.78" text-anchor="middle" fill="#262626">40</text>
<text x="1486.95" y="2252.70" font-size="30.56" text-anchor="middle" fill="#262626">last Respiratory rate</text>
<text x="1486.95" y="2286.70" font-size="30.56" text-anchor="middle" fill="#262626">(breaths per minute)</text>
<text transform="translate(1200.00,2053.90) rotate(-90)" x="0" y="0" font-size="30.56" text-anchor="middle" fill="#262626">Effect</text>
<text transform="translate(1.72,38.00) scale(1.070,1.04)" x="0" y="0" font-size="50" font-family="'Liberation Sans', Arial, sans-serif" font-weight="bold" fill="#000">A</text>
<text transform="translate(-0.23,805.60) scale(0.980,1.04)" x="0" y="0" font-size="50" font-family="'Liberation Sans', Arial, sans-serif" font-weight="bold" fill="#000">B</text>
<text transform="translate(1.31,1573.50) scale(0.940,1.04)" x="0" y="0" font-size="50" font-family="'Liberation Sans', Arial, sans-serif" font-weight="bold" fill="#000">C</text>
<text transform="translate(1121.23,38.00) scale(0.990,1.04)" x="0" y="0" font-size="50" font-family="'Liberation Sans', Arial, sans-serif" font-weight="bold" fill="#000">D</text>
<text transform="translate(1121.34,805.60) scale(0.960,1.04)" x="0" y="0" font-size="50" font-family="'Liberation Sans', Arial, sans-serif" font-weight="bold" fill="#000">E</text>
<text transform="translate(1121.37,1573.20) scale(0.950,1.04)" x="0" y="0" font-size="50" font-family="'Liberation Sans', Arial, sans-serif" font-weight="bold" fill="#000">F</text>
<text transform="translate(62.40,567.95) rotate(-90)" x="0" y="0" font-size="50" font-family="'Liberation Sans', Arial, sans-serif" font-weight="bold" fill="#000">Logistic regression</text>
<text transform="translate(74.00,1294.70) rotate(-90)" x="0" y="0" font-size="50" font-family="'Liberation Sans', Arial, sans-serif" font-weight="bold" fill="#000">Random Forest</text>
<text transform="translate(75.00,1983.60) rotate(-90)" x="0" y="0" font-size="50" font-family="'Liberation Sans', Arial, sans-serif" font-weight="bold" fill="#000">XGBoost</text>
</svg>
</body></html>
